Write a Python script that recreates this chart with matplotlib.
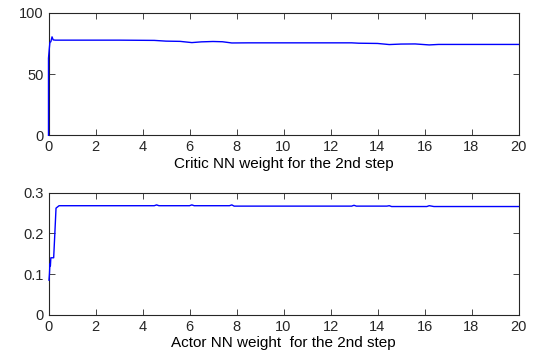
import numpy as np
import matplotlib
matplotlib.use("Agg")
import matplotlib.pyplot as plt

plt.rcParams['font.family'] = ['Liberation Sans', 'DejaVu Sans']

# critic weight trace
t_critic = [0, 0.0, 0.03, 0.06, 0.1, 0.15, 0.2, 0.3, 1.0, 3.0, 4.5, 5.0, 5.6, 6.1, 6.5, 7.0, 7.4,
            7.8, 8.5, 10.0, 12.0, 12.9, 13.2, 14.0, 14.5, 15.0, 15.6, 16.2, 16.6, 18.0, 20.0]
w_critic = [0, 63, 70, 76, 76.5, 80.5, 78, 77.8, 77.8, 77.8, 77.6, 77.0, 76.8, 75.8, 76.4, 76.7, 76.5,
            75.5, 75.6, 75.6, 75.6, 75.6, 75.3, 75.1, 74.2, 74.6, 74.7, 73.9, 74.3, 74.3, 74.3]

# actor weight trace
t_actor = [0.02, 0.04, 0.06, 0.08, 0.1, 0.22, 0.27, 0.32, 0.45, 1.0, 4.5, 4.6, 4.7, 6.0, 6.1, 6.2,
           7.7, 7.8, 7.9, 12.9, 13.0, 13.1, 14.4, 14.5, 14.6, 16.1, 16.2, 16.4, 20.0]
w_actor = [0.085, 0.1, 0.125, 0.12, 0.14, 0.14, 0.2, 0.262, 0.268, 0.268, 0.268, 0.270, 0.268,
           0.268, 0.270, 0.268, 0.268, 0.270, 0.267, 0.267, 0.269, 0.267, 0.267, 0.268, 0.266,
           0.266, 0.268, 0.266, 0.266]

fig = plt.figure(figsize=(5.37, 3.54), dpi=100)
ax1 = fig.add_axes([48.5 / 537, 1 - 135.3 / 354, 470 / 537, 122.3 / 354])
ax2 = fig.add_axes([48.5 / 537, 1 - 314.7 / 354, 470 / 537, 122 / 354])

ax1.plot(t_critic, w_critic, color='#0000ff', lw=1.0, zorder=5, clip_on=False)
ax1.set_ylim(0, 100)
ax1.set_yticks([0, 50, 100])
ax1.set_xlabel('Critic NN weight for the 2nd step', fontsize=11, labelpad=2)

ax2.plot(t_actor, w_actor, color='#0000ff', lw=1.0, zorder=5, clip_on=False)
ax2.set_ylim(0, 0.3)
ax2.set_yticks([0, 0.1, 0.2, 0.3])
ax2.set_yticklabels(['0', '0.1', '0.2', '0.3'])
ax2.set_xlabel('Actor NN weight  for the 2nd step', fontsize=11, labelpad=2)

for ax in (ax1, ax2):
    ax.set_xlim(0, 20)
    ax.set_xticks(np.arange(0, 21, 2))
    ax.tick_params(direction='in', top=True, right=True, labelsize=10.5, length=4, width=0.6,
                   colors='#262626')
    for s in ax.spines.values():
        s.set_linewidth(0.8)
        s.set_color('#262626')

fig.savefig('out.png', dpi=100)
